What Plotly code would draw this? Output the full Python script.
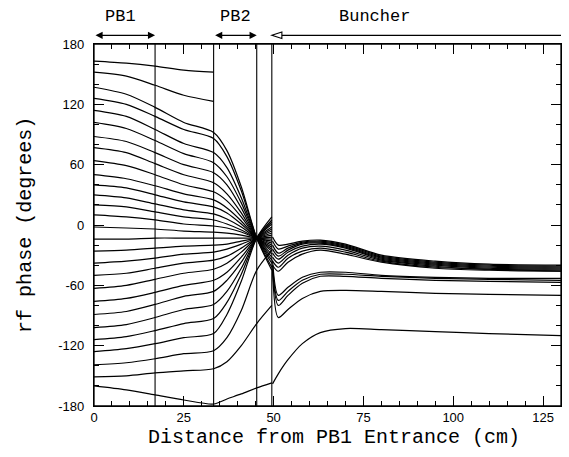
import plotly.graph_objects as go

# ---- data ----
# Pre-buncher section (PB1 + PB2): knots along the beam line (cm)
pb_x = [0, 9, 17, 25, 33.3, 37, 41, 45.3, 49.5]

# rf phase (deg) of each tracked particle at the knots above (None = particle lost)
pb_phase = [
    [163, 161, 158, 154, 152, None, None, None, None],
    [152, 148, 139, 129, 123, None, None, None, None],
    [137, 130, 117, 102, 92, 74, 38, -13, -45],
    [126, 120, 108, 95, 86, 68, 34, -13, -42],
    [114, 108, 95, 81, 72, 57, 27, -13, -38],
    [102, 96, 84, 71, 62, 48, 22, -13, -35],
    [88, 83, 72, 60, 52, 40, 17, -13, -32],
    [77, 72, 61, 50, 42, 31, 12, -13, -29],
    [64, 59, 50, 40, 33, 24, 8, -13, -26],
    [50, 46, 39, 31, 25, 17, 4, -13, -24],
    [40, 37, 30, 23, 18, 12, 1, -13, -22],
    [30, 27, 21, 15, 11, 6, -2, -13, -20],
    [20, 18, 13, 8, 5, 1, -5, -13, -18],
    [10, 8, 5, 1, -1, -3, -7, -13, -16],
    [-2, -3, -4, -6, -7, -8, -10, -13, -14],
    [-14, -14, -13, -13, -13, -13, -13, -13, -12],
    [-26, -25, -23, -21, -20, -19, -16, -13, -10],
    [-38, -36, -33, -29, -27, -24, -19, -13, -8],
    [-50, -48, -43, -38, -35, -31, -23, -13, -6],
    [-63, -60, -54, -48, -44, -38, -27, -13, -4],
    [-76, -73, -67, -60, -55, -47, -32, -13, -2],
    [-89, -86, -79, -71, -66, -55, -37, -13, 1],
    [-102, -99, -92, -84, -79, -66, -43, -13, 3],
    [-114, -111, -105, -98, -93, -77, -49, -13, 5],
    [-126, -123, -118, -112, -108, -89, -56, -13, 8],
    [-139, -137, -133, -128, -125, -112, -85, -45, -25],
    [-151, -150, -147, -145, -143, -136, -120, -98, -80],
    [-160, -164, -169, -174, -178, -173, -168, -162, -157],
]

# Buncher section knots (cm)
bun_x = [49.7, 51.3, 54, 58, 63, 70, 80, 95, 110, 130]
bun_phase = [
    [-12, -20, -19, -16, -15, -19, -30, -36, -39, -40],
    [-16, -24, -21, -17, -16, -20, -31, -37, -40, -41],
    [-20, -28, -23, -18, -17, -21, -32, -38, -41, -42],
    [-24, -31, -25, -19, -18, -22, -33, -39, -42, -43],
    [-28, -34, -27, -21, -19, -23, -34, -40, -43, -44],
    [-32, -38, -30, -23, -21, -25, -35, -41, -44, -45],
    [-36, -42, -33, -26, -23, -27, -36, -42, -44, -46],
    [-40, -46, -37, -29, -25, -29, -37, -43, -45, -46],
    [-35, -70, -62, -52, -47, -47, -50, -52, -53, -53],
    [-40, -75, -66, -55, -49, -49, -51, -53, -54, -55],
    [-44, -80, -70, -58, -51, -51, -53, -55, -56, -57],
    [-45, -92, -84, -73, -66, -65, -66, -68, -69, -70],
    [-158, -148, -134, -118, -107, -103, -104, -106, -108, -110],
]

# section boundaries (cm)
boundaries = [17, 33.3, 45.3, 49.5]

# axis ticks
x_ticks = [0, 25, 50, 75, 100, 125]
y_ticks = [-180, -120, -60, 0, 60, 120, 180]
y_ticktext = ["-180", "-120", "-60", "0", "60", "120", "180"]

# section labels: (text, center x, arrow start, arrow end)
sections = [("PB1", 7.3, 0, 17), ("PB2", 39.5, 33.3, 45.3), ("Buncher", 78, 49.5, 130)]

x_title = "Distance from PB1 Entrance (cm)"
y_title = "rf phase (degrees)"

# ---- figure ----
fig = go.Figure()
line_style = dict(color="black", width=1.2, shape="spline", smoothing=0.8)

for ph in pb_phase:
    xs = [x for x, v in zip(pb_x, ph) if v is not None]
    ys = [v for v in ph if v is not None]
    fig.add_trace(go.Scatter(x=xs, y=ys, mode="lines", line=line_style,
                             hoverinfo="skip", showlegend=False))

for ph in bun_phase:
    fig.add_trace(go.Scatter(x=bun_x, y=ph, mode="lines", line=line_style,
                             hoverinfo="skip", showlegend=False))

shapes = [dict(type="rect", xref="paper", yref="paper", x0=0, x1=1, y0=0, y1=1,
               line=dict(color="black", width=1.3), fillcolor="rgba(0,0,0,0)")]
for b in boundaries:
    shapes.append(dict(type="line", xref="x", yref="paper", x0=b, x1=b, y0=0, y1=1,
                       line=dict(color="black", width=1.1)))

arrow_y = 1.024
annotations = []
mono = "Liberation Mono, Courier New, monospace"
for name, cx, a0, a1 in sections:
    annotations.append(dict(text=name, x=cx, xref="x", y=1.075, yref="paper",
                            showarrow=False, font=dict(family=mono, size=17, color="black"),
                            xanchor="center", yanchor="middle"))
    if name != "Buncher":
        annotations.append(dict(text="", x=a1, xref="x", y=arrow_y, yref="paper",
                                ax=a0, axref="x", ay=0, ayref="pixel",
                                showarrow=True, arrowhead=2, arrowside="end+start",
                                arrowsize=1.1, arrowwidth=1.3, arrowcolor="black",
                                standoff=0, startstandoff=0))
    else:
        shapes.append(dict(type="line", xref="x", yref="paper", x0=a0 + 2.6, x1=a1,
                           y0=arrow_y, y1=arrow_y, line=dict(color="black", width=1.3)))
        shapes.append(dict(type="path", xref="x", yref="paper",
                           path=f"M {a0},{arrow_y} L {a0 + 2.8},{arrow_y + 0.009} "
                                f"L {a0 + 2.8},{arrow_y - 0.009} Z",
                           line=dict(color="black", width=1.1), fillcolor="white"))

title_font = dict(family=mono, size=20, color="black")
annotations.append(dict(text=x_title, xref="paper", yref="paper", x=0.514, y=-0.086,
                        showarrow=False, font=title_font, xanchor="center", yanchor="middle"))
annotations.append(dict(text=y_title, xref="paper", yref="paper", x=-0.148, y=0.5,
                        showarrow=False, font=title_font, textangle=-90,
                        xanchor="center", yanchor="middle"))

fig.update_layout(
    width=569, height=457,
    margin=dict(l=94, r=8, t=44, b=51, autoexpand=False),
    paper_bgcolor="white", plot_bgcolor="white",
    shapes=shapes, annotations=annotations,
    showlegend=False, hovermode=False,
)

tick_font = dict(family="Liberation Sans, Arial, sans-serif", size=13, color="black")

fig.update_xaxes(
    range=[0, 130], tickvals=x_ticks, ticks="inside", ticklen=10, tickwidth=1,
    tickcolor="black", showline=True, linecolor="black", linewidth=1.2,
    mirror="ticks", showgrid=False, zeroline=False, tickfont=tick_font,
    automargin=False, ticklabelstandoff=-1,
    minor=dict(dtick=5, ticks="inside", ticklen=5, tickcolor="black", showgrid=False),
)
fig.update_yaxes(
    range=[-180, 180], tickvals=y_ticks, ticktext=y_ticktext, ticks="inside",
    ticklen=10, tickwidth=1, tickcolor="black", showline=True, linecolor="black",
    linewidth=1.2, mirror="ticks", showgrid=False, zeroline=False, tickfont=tick_font,
    ticklabelstandoff=6, automargin=False,
    minor=dict(dtick=20, ticks="inside", ticklen=5, tickcolor="black", showgrid=False),
)

# remove the browser's default page margin so the figure fills the window exactly
page_fix = "document.body.style.margin='0';document.body.style.overflow='hidden';"
fig.write_html("out.html", post_script=page_fix, config={"displayModeBar": False})
